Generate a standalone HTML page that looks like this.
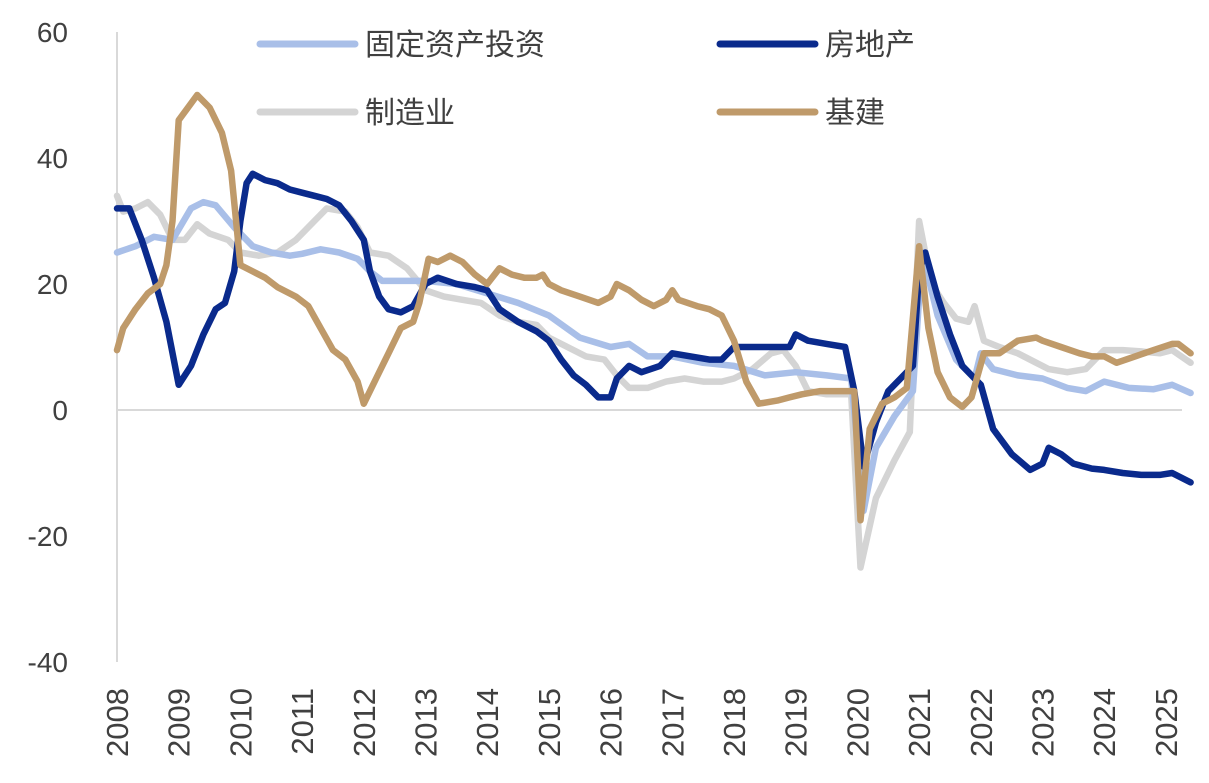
<!DOCTYPE html>
<html><head><meta charset="utf-8"><style>
body{margin:0;background:#fff;}
svg{display:block;font-family:"Liberation Sans","Noto Sans CJK SC",sans-serif;}
</style></head><body>
<svg id="chart" width="1209" height="783" viewBox="0 0 1209 783">
<g id="axes"></g>
<g id="series"></g>
<g id="legend"></g>
</svg>
<script>
const yTicks=[60,40,20,0,-20,-40];
const years=[2008,2009,2010,2011,2012,2013,2014,2015,2016,2017,2018,2019,2020,2021,2022,2023,2024,2025];
const seriesNames=["固定资产投资","房地产","制造业","基建"];
const fixedT=[2008,2008.3,2008.6,2008.9,2009.2,2009.4,2009.6,2009.9,2010.2,2010.5,2010.8,2011,2011.3,2011.6,2011.9,2012.1,2012.3,2012.6,2013,2013.5,2014,2014.5,2015,2015.5,2016,2016.3,2016.6,2017,2017.5,2018,2018.5,2019,2019.5,2019.9,2020.1,2020.3,2020.6,2020.9,2021.05,2021.3,2021.6,2021.9,2022,2022.2,2022.6,2023,2023.4,2023.7,2024,2024.4,2024.8,2025.1,2025.4];
const fixedV=[25,26,27.5,27,32,33,32.5,29,26,25,24.5,24.8,25.5,25,24,22,20.5,20.5,20.5,20,18.5,17,15,11.5,10,10.5,8.5,8.5,7.5,7,5.5,6,5.5,5,-16,-6,-1,3,25,15,8,5,9,6.5,5.5,5,3.5,3,4.5,3.5,3.3,4,2.7];
const realT=[2008,2008.2,2008.4,2008.6,2008.8,2009,2009.2,2009.4,2009.6,2009.75,2009.9,2010,2010.1,2010.2,2010.4,2010.6,2010.8,2011,2011.2,2011.4,2011.6,2011.8,2012,2012.1,2012.25,2012.4,2012.6,2012.8,2013,2013.2,2013.5,2013.8,2014,2014.2,2014.5,2014.8,2015,2015.2,2015.4,2015.6,2015.8,2016,2016.1,2016.3,2016.5,2016.8,2017,2017.3,2017.6,2017.8,2018,2018.3,2018.6,2018.9,2019,2019.2,2019.5,2019.8,2019.95,2020.1,2020.3,2020.5,2020.7,2020.9,2021,2021.1,2021.3,2021.5,2021.7,2021.9,2022,2022.2,2022.5,2022.8,2023,2023.1,2023.3,2023.5,2023.8,2024,2024.3,2024.6,2024.9,2025.1,2025.4];
const realV=[32,32,27,21,14,4,7,12,16,17,22,30,36,37.5,36.5,36,35,34.5,34,33.5,32.5,30,27,22,18,16,15.5,16.5,20,21,20,19.5,19,16,14,12.5,11,8,5.5,4,2,2,5,7,6,7,9,8.5,8,8,10,10,10,10,12,11,10.5,10,3,-9,-2,3,5,7,22,25,18,12,7,5,4,-3,-7,-9.5,-8.5,-6,-7,-8.5,-9.3,-9.5,-10,-10.3,-10.3,-10,-11.5];
const mfgT=[2008,2008.1,2008.3,2008.5,2008.7,2008.9,2009.1,2009.3,2009.5,2009.8,2010,2010.3,2010.6,2010.9,2011.2,2011.4,2011.7,2011.9,2012.1,2012.4,2012.7,2013,2013.3,2013.6,2013.9,2014.2,2014.5,2014.8,2015,2015.3,2015.6,2015.9,2016.1,2016.3,2016.6,2016.9,2017.2,2017.5,2017.8,2018,2018.3,2018.6,2018.8,2019,2019.2,2019.5,2019.9,2020.05,2020.3,2020.6,2020.85,2021,2021.2,2021.4,2021.6,2021.8,2021.9,2022.05,2022.3,2022.6,2022.9,2023.1,2023.4,2023.7,2024,2024.3,2024.6,2024.9,2025.1,2025.4];
const mfgV=[34,31.5,32,33,31,27,27,29.5,28,27,25,24.5,25,27,30,32,31.5,29,25,24.5,22.5,19,18,17.5,17,15,14,13.5,11.5,10,8.5,8,5.5,3.5,3.5,4.5,5,4.5,4.5,5,6.5,9,9.5,7,3,2.5,2.5,-25,-14,-8,-3.5,30,20,17,14.5,14,16.5,11,10,9,7.5,6.5,6,6.5,9.5,9.5,9.3,9,9.5,7.5];
const infraT=[2008,2008.1,2008.3,2008.5,2008.7,2008.8,2008.9,2009,2009.15,2009.3,2009.5,2009.7,2009.85,2010,2010.2,2010.4,2010.6,2010.9,2011.1,2011.3,2011.5,2011.7,2011.9,2012,2012.2,2012.4,2012.6,2012.8,2012.9,2013.05,2013.2,2013.4,2013.6,2013.8,2014,2014.2,2014.4,2014.6,2014.8,2014.9,2015,2015.2,2015.5,2015.8,2016,2016.1,2016.3,2016.5,2016.7,2016.9,2017,2017.1,2017.4,2017.6,2017.8,2018,2018.2,2018.4,2018.7,2018.9,2019.1,2019.4,2019.7,2019.95,2020.05,2020.2,2020.4,2020.6,2020.8,2021,2021.15,2021.3,2021.5,2021.7,2021.85,2022.05,2022.3,2022.6,2022.9,2023,2023.3,2023.6,2023.8,2024,2024.2,2024.5,2024.8,2025.1,2025.2,2025.4];
const infraV=[9.5,13,16,18.5,20,23,30,46,48,50,48,44,38,23,22,21,19.5,18,16.5,13,9.5,8,4.5,1,5,9,13,14,17,24,23.5,24.5,23.5,21.5,20,22.5,21.5,21,21,21.5,20,19,18,17,18,20,19,17.5,16.5,17.5,19,17.5,16.5,16,15,11,4.5,1,1.5,2,2.5,3,3,3,-17.5,-3,1,2,3.5,26,13,6,2,0.5,2,9,9,11,11.5,11,10,9,8.5,8.5,7.5,8.5,9.5,10.5,10.5,9];

const NS="http://www.w3.org/2000/svg";
const x=t=>117+(t-2008)*61.7;
const y=v=>410-v*6.3;
function mk(tag,attrs,parent){const e=document.createElementNS(NS,tag);for(const k in attrs)e.setAttribute(k,attrs[k]);parent.appendChild(e);return e;}
const axes=document.getElementById('axes');
let e=mk('line',{x1:117,y1:y(60),x2:117,y2:y(-40),stroke:'#d9d9d9','stroke-width':2},axes);


e=mk('line',{x1:117,y1:y(0),x2:1182,y2:y(0),stroke:'#d9d9d9','stroke-width':2},axes);


yTicks.forEach(v=>{const t=mk('text',{x:68,y:y(v)+10,'text-anchor':'end','font-size':28,fill:'#404040'},axes);t.textContent=v;

});
years.forEach(yr=>{const t=mk('text',{transform:`translate(${x(yr)+11},688) rotate(-90)`,'text-anchor':'end','font-size':31,fill:'#404040'},axes);t.textContent=yr;

});
const sg=document.getElementById('series');
const order=[[mfgT,mfgV,'#d4d4d4','manufacturing-line'],[fixedT,fixedV,'#a9bfe8','fixed-asset-line'],[realT,realV,'#0a2a8c','real-estate-line'],[infraT,infraV,'#bf9a6a','infrastructure-line']];
order.forEach(([T,V,c,n])=>{const p=mk('polyline',{points:T.map((t,i)=>x(t).toFixed(1)+','+y(V[i]).toFixed(1)).join(' '),fill:'none',stroke:c,'stroke-width':6.5,'stroke-linejoin':'round','stroke-linecap':'round'},sg);

});
const lg=document.getElementById('legend');
const items=[[260,44,'#a9bfe8',seriesNames[0]],[720,44,'#0a2a8c',seriesNames[1]],[260,112,'#d4d4d4',seriesNames[2]],[720,112,'#bf9a6a',seriesNames[3]]];
items.forEach(([lx,ly,c,txt])=>{const g=mk('g',{},lg);


mk('line',{x1:lx,y1:ly,x2:lx+95,y2:ly,stroke:c,'stroke-width':7,'stroke-linecap':'round'},g);
const t=mk('text',{x:lx+105,y:ly+11,'font-size':30,fill:'#404040'},g);t.textContent=txt;});
</script>
</body></html>
